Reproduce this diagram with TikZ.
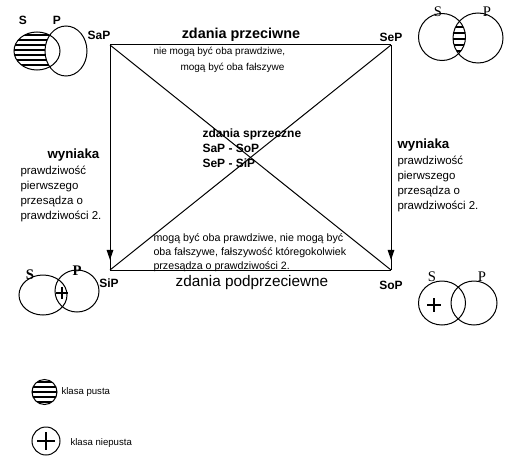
\documentclass[tikz,border=0pt]{standalone}
\usepackage{fontspec}
\setmainfont{Liberation Sans}
\newfontfamily\vennserif{Liberation Serif}
\usetikzlibrary{positioning,arrows.meta,decorations.markings}

\begin{document}
\begin{tikzpicture}[x=0.75pt, y=-0.75pt, line width=0.75pt,
  font=\fontsize{8}{10}\selectfont,
  corner/.style={font=\fontsize{9}{10}\selectfont\bfseries, inner sep=0pt},
  title/.style={font=\fontsize{10.8}{12}\selectfont\bfseries, inner sep=0pt},
  note/.style={font=\fontsize{7.5}{11.25}\selectfont, align=left, inner sep=0pt},
  sidenote/.style={font=\fontsize{8.6}{11.25}\selectfont, align=left, inner sep=0pt},
  setsans/.style={font=\fontsize{9}{10}\selectfont\bfseries, inner sep=0pt},
  setserif/.style={font=\vennserif\fontsize{11}{12}\selectfont, inner sep=0pt},
  hatch/.style={line width=1.5pt},
  plus/.style={line width=1.9pt},
  side/.style={postaction={decorate}, decoration={markings,
    mark=at position 0.955 with {\arrow{Triangle[length=7.5pt,width=5pt]}}}}]
\useasboundingbox (0,0) rectangle (523,467);
% square of opposition
\coordinate (SaPc) at (110,45);
\coordinate (SePc) at (391,45);
\coordinate (SiPc) at (110,270);
\coordinate (SoPc) at (391,270);
\draw (SaPc) -- (SePc);
\draw (SiPc) -- (SoPc);
\draw[side] (SaPc) -- (SiPc);
\draw[side] (SePc) -- (SoPc);
\draw (SaPc) -- (SoPc);
\draw (SePc) -- (SiPc);
\node[corner] (SaP) at (99,35) {SaP};
\node[corner] (SeP) at (391,37) {SeP};
\node[corner] (SiP) at (109,283) {SiP};
\node[corner] (SoP) at (391,285) {SoP};
% texts
\node[title] (przeciwne) at (241,35) {zdania przeciwne};
\node[note, anchor=west] (topnoteA) at (153,52) {nie mogą być oba prawdziwe,};
\node[note, anchor=west] (topnoteB) at (180,68) {mogą być oba fałszywe};
\node[corner, anchor=north west, align=left, font=\fontsize{9}{11.25}\selectfont\bfseries]
  (sprzeczne) at (202,128) {zdania sprzeczne\\SaP - SoP\\SeP - SiP};
\node[title, font=\fontsize{10}{12}\selectfont\bfseries, anchor=west] (wynL) at (47,155) {wyniaka};
\node[sidenote, anchor=north west] (wynLtxt) at (20,166)
  {prawdziwość\\pierwszego\\przesądza o\\prawdziwości 2.};
\node[title, font=\fontsize{10}{12}\selectfont\bfseries, anchor=west] (wynR) at (397,145) {wyniaka};
\node[sidenote, anchor=north west] (wynRtxt) at (397,156)
  {prawdziwość\\pierwszego\\przesądza o\\prawdziwości 2.};
\node[note, font=\fontsize{8}{10.5}\selectfont, anchor=north west] (botnote) at (153,233)
  {mogą być oba prawdziwe, nie mogą być\\oba fałszywe, fałszywość któregokolwiek\\przesądza o prawdziwości 2.};
\node[font=\fontsize{11.5}{13}\selectfont, inner sep=0pt] (podprz) at (252,283) {zdania podprzeciewne};
% SaP diagram
\begin{scope}
  \clip (37,51) ellipse [x radius=23, y radius=19];
  \foreach \y in {35,40,...,65} \draw[hatch] (10,\y) -- (70,\y);
  \fill[white] (66,51) ellipse [x radius=21, y radius=25];
\end{scope}
\draw (37,51) ellipse [x radius=23, y radius=19];
\draw (66,51) ellipse [x radius=21, y radius=25];
\node[setsans] (SaPs) at (23,20) {S};
\node[setsans] (SaPp) at (57,20) {P};
% SeP diagram
\begin{scope}
  \clip (442,37) circle [radius=23.5];
  \clip (478,38) circle [radius=25];
  \foreach \y in {21,27,...,53} \draw[hatch] (440,\y) -- (480,\y);
\end{scope}
\draw (442,37) circle [radius=23.5];
\draw (478,38) circle [radius=25];
\node[setserif] (SePs) at (438,12) {S};
\node[setserif] (SePp) at (487,12) {P};
% SiP diagram
\draw (43,295) ellipse [x radius=24, y radius=20];
\draw (77,291) ellipse [x radius=22, y radius=21];
\draw[plus] (62,287) -- (62,299) (56,293) -- (68,293);
\node[setserif, font=\vennserif\fontsize{11}{12}\selectfont\bfseries] (SiPs) at (30,275) {S};
\node[setserif, font=\vennserif\fontsize{11}{12}\selectfont\bfseries] (SiPp) at (77,271) {P};
% SoP diagram
\draw (442,303) ellipse [x radius=23.5, y radius=22];
\draw (474,303) ellipse [x radius=23, y radius=22];
\draw[plus] (434,298) -- (434,312) (427,305) -- (441,305);
\node[setserif] (SoPs) at (432,277) {S};
\node[setserif] (SoPp) at (482,277) {P};
% legend
\begin{scope}
  \clip (44.5,392) circle [radius=12.5];
  \foreach \y in {382,387,...,402} \draw[hatch] (30,\y) -- (60,\y);
\end{scope}
\draw (44.5,392) circle [radius=12.5];
\node[note, font=\fontsize{7.2}{9}\selectfont, anchor=west] (pusta) at (61,392) {klasa pusta};
\draw (46,441) circle [radius=14];
\draw[plus] (46,432) -- (46,450) (37,441) -- (55,441);
\node[note, font=\fontsize{7.2}{9}\selectfont, anchor=west] (niepusta) at (70,443) {klasa niepusta};
\end{tikzpicture}
\end{document}
